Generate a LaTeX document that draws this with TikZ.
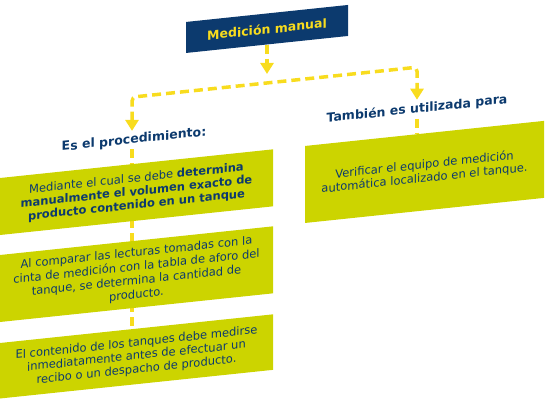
\documentclass[tikz,border=0pt]{standalone}
\usepackage{fontspec}
\setmainfont{DejaVu Sans}
\usetikzlibrary{arrows.meta,backgrounds}
\definecolor{navy}{RGB}{12,58,110}
\definecolor{lime}{RGB}{204,212,0}
\definecolor{gold}{RGB}{248,220,30}
\tikzset{
 hdr/.style={fill=navy,text=gold,font=\fontsize{12.5}{14}\selectfont\bfseries,minimum width=162pt,minimum height=31pt,inner sep=0pt},
 branch/.style={text=navy,font=\fontsize{12.5}{14}\selectfont\bfseries,inner sep=3pt},
 greenbox/.style={fill=lime,text=navy,align=center,inner sep=0pt,minimum width=273pt,font=\fontsize{11.5}{13.4}\selectfont},
 flow/.style={draw=gold,line width=3.5pt,dash pattern=on 9pt off 5pt},
 flowtip/.style={-{Triangle[width=13pt,length=11pt]}}
}
\begin{document}
\begin{tikzpicture}[x=1pt,y=1pt]
 \useasboundingbox (0,0) rectangle (548,400);
 \begin{scope}[yslant=0.105,transform shape]
 % heading
 \node[hdr] (title) at (267,343) {Medición manual};
 \coordinate (drop) at (267,298);
 \coordinate (forkL) at (132,289);
 \coordinate (forkR) at (417,289);
 % branch labels
 \node[branch] (proc) at (134,246) {Es el procedimiento:};
 \node[branch] (also) at (417,247) {También es utilizada para};
 % left column
 \node[greenbox,minimum height=57pt] (p1) at (136.5,193.5)
   {Mediante el cual se debe \textbf{determina}\\ \textbf{manualmente el volumen exacto de}\\ \textbf{producto contenido en un tanque}};
 \node[greenbox,minimum height=67pt,font=\fontsize{11.5}{14}\selectfont] (p2) at (136.5,111.5)
   {Al comparar las lecturas tomadas con la\\ cinta de medición con la tabla de aforo del\\ tanque, se determina la cantidad de\\ producto.};
 \node[greenbox,minimum height=55.5pt] (p3) at (136.5,29.25)
   {El contenido de los tanques debe medirse\\ inmediatamente antes de efectuar un\\ recibo o un despacho de producto.};
 % right column
 \node[greenbox,minimum width=239pt,minimum height=77pt] (v1) at (424.5,183.5)
   {Verificar el equipo de medición\\ automática localizado en el tanque.};
 % connectors
 \draw[flow,flowtip] (title.south) -- (drop);
 \draw[flow,{Triangle[width=13pt,length=11pt]}-{Triangle[width=13pt,length=11pt]},rounded corners=4pt]
   (proc.north -| forkL) -- (forkL) -- (forkR) -- (also.north);
 \begin{scope}[on background layer]
  \draw[flow] (proc.south -| forkL) -- (forkL |- p3.north);
  \draw[flow] (also.south) -- (also.south |- v1.north);
 \end{scope}
 \end{scope}
\end{tikzpicture}
\end{document}
